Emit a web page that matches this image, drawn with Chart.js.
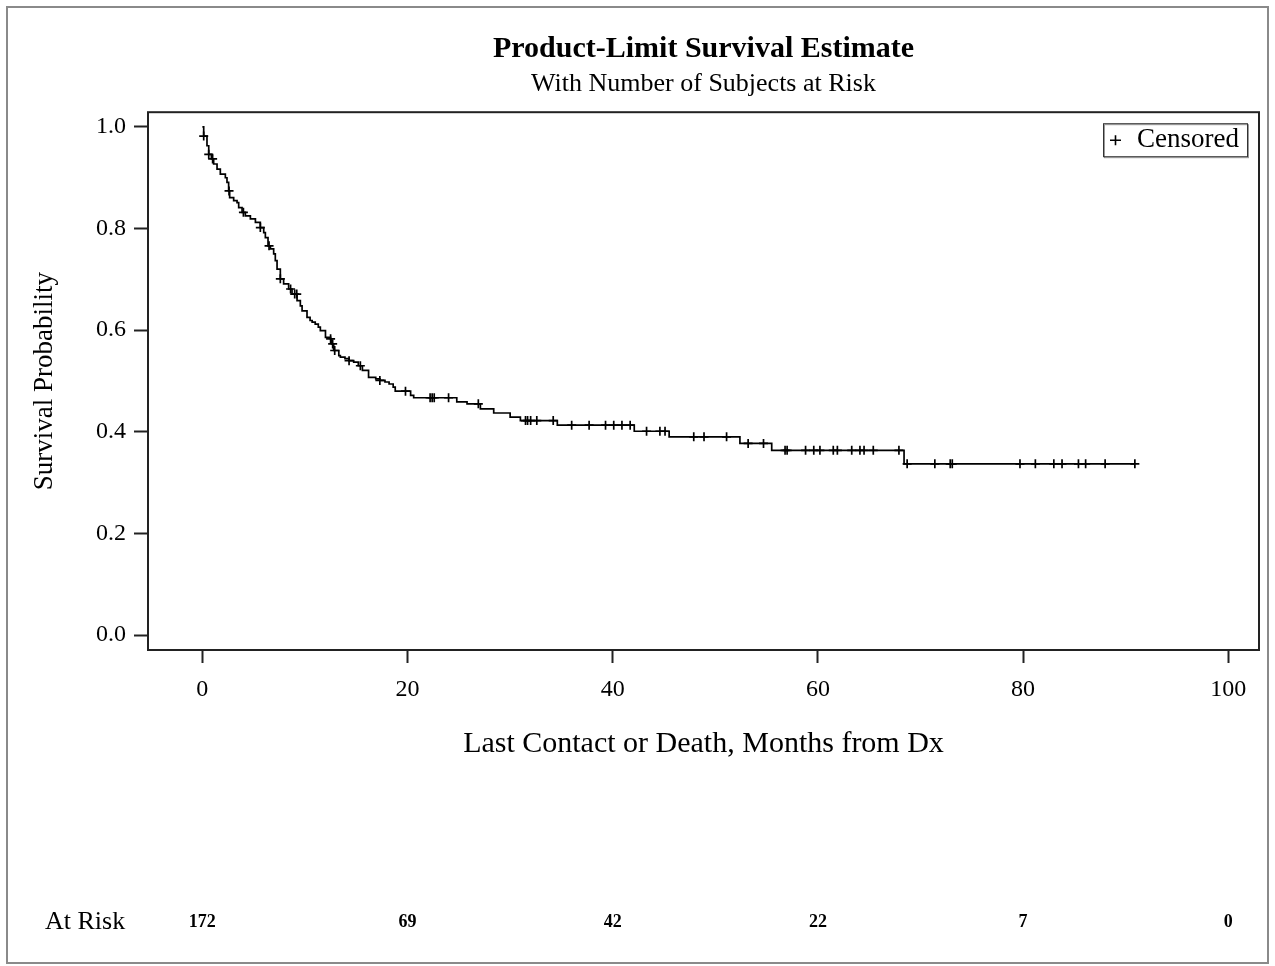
<!DOCTYPE html>
<html>
<head>
<meta charset="utf-8">
<script src="https://cdn.jsdelivr.net/npm/chart.js@4.4.1/dist/chart.umd.min.js"></script>
<style>
  html, body { margin: 0; padding: 0; background: #fff; }
  #wrap { width: 1275px; height: 966px; }
</style>
</head>
<body>
<div id="wrap"><canvas id="km" width="1275" height="966"></canvas></div>
<script>
// Kaplan-Meier curve: drop times (months) and survival after each drop
const eventTimes = [0, 0.13, 0.45, 0.62, 0.88, 1.1, 1.43, 1.75, 2.24, 2.4, 2.56, 2.66, 3.05, 3.38, 3.54, 3.87,
  4.19, 4.68, 5.17, 5.65, 5.98, 6.14, 6.4, 6.63, 6.95, 7.11, 7.28, 7.6, 7.92, 8.41, 8.74, 9.23, 9.55, 9.72,
  10.2, 10.5, 10.7, 11.0, 11.3, 11.5, 12.0, 12.5, 12.6, 12.8, 13.3, 13.45, 13.9, 14.3, 14.75, 15.2, 15.6,
  16.2, 16.9, 17.3, 17.8, 18.2, 18.6, 18.8, 20.3, 20.6, 24.8, 25.8, 27.1, 28.4, 30.0, 31.0, 34.6, 42.1,
  45.5, 52.4, 55.5, 68.4];
const survival = [1.0, 0.982, 0.963, 0.946, 0.937, 0.927, 0.917, 0.907, 0.900, 0.891, 0.874, 0.861, 0.855,
  0.851, 0.841, 0.832, 0.825, 0.819, 0.812, 0.802, 0.792, 0.782, 0.766, 0.760, 0.750, 0.737, 0.720, 0.701,
  0.691, 0.681, 0.671, 0.658, 0.648, 0.638, 0.625, 0.619, 0.616, 0.612, 0.606, 0.599, 0.586, 0.583, 0.573,
  0.560, 0.550, 0.547, 0.544, 0.540, 0.537, 0.530, 0.521, 0.507, 0.504, 0.501, 0.498, 0.494, 0.488, 0.480,
  0.4715, 0.467, 0.459, 0.455, 0.445, 0.437, 0.429, 0.422, 0.413, 0.401, 0.390, 0.377, 0.3635, 0.337];
const lastFollowUp = 90.9;

// censored subjects (months)
const censorTimes = [0.13, 0.62, 1.0, 2.6, 4.0, 5.65, 6.5, 7.6, 8.6, 9.0, 9.2, 12.5, 12.7, 12.9, 14.3, 15.4,
  17.3, 19.8, 22.2, 22.4, 22.6, 24.0, 26.9, 31.5, 31.7, 32.0, 32.6, 34.2, 36.0, 37.7, 39.3, 40.1, 40.9,
  41.7, 43.3, 44.6, 45.1, 47.9, 48.9, 51.1, 53.2, 54.7, 56.8, 57.0, 58.8, 59.6, 60.2, 61.5, 61.9, 63.3,
  64.1, 64.5, 65.4, 67.9, 68.7, 71.4, 72.9, 73.1, 79.7, 81.2, 83.0, 83.8, 85.4, 86.1, 88.0, 90.9];

const xTicks = [0, 20, 40, 60, 80, 100];
const yTicks = [0, 0.2, 0.4, 0.6, 0.8, 1.0];
const atRiskTimes = [0, 20, 40, 60, 80, 100];
const atRiskCounts = [172, 69, 42, 22, 7, 0];

const SERIF = "'Liberation Serif', 'Times New Roman', serif";

function survivalAt(t) {
  let s = survival[0];
  for (let i = 0; i < eventTimes.length; i++) {
    if (eventTimes[i] <= t) s = survival[i]; else break;
  }
  return s;
}

const curve = eventTimes.map((t, i) => ({ x: t, y: survival[i] }));
curve.push({ x: lastFollowUp, y: survival[survival.length - 1] });
const censored = censorTimes.map(t => ({ x: t, y: survivalAt(t) }));

// ─── frame, plot box, legend, at-risk row ───
const decor = {
  id: 'decor',
  beforeDraw(chart) {
    const c = chart.ctx;
    c.save();
    c.fillStyle = '#fff';
    c.fillRect(0, 0, chart.width, chart.height);
    c.strokeStyle = '#8a8a8a';
    c.lineWidth = 2;
    c.strokeRect(7, 7, 1261, 956);
    c.restore();
  },
  afterDraw(chart) {
    const c = chart.ctx;
    const a = chart.chartArea;
    c.save();
    c.strokeStyle = '#222';
    c.lineWidth = 2;
    c.strokeRect(a.left, a.top, a.right - a.left, a.bottom - a.top);

    // legend box
    const bw = 144, bh = 33;
    const bx = a.right - 12 - bw, by = a.top + 11;
    c.strokeStyle = '#999';
    c.lineWidth = 1;
    c.strokeRect(bx + 1.5, by + 1.5, bw, bh);
    c.strokeStyle = '#333';
    c.strokeRect(bx + 0.5, by + 0.5, bw, bh);
    const cy = by + bh / 2 + 0.5;
    c.strokeStyle = '#000';
    c.lineWidth = 1.6;
    c.beginPath();
    c.moveTo(bx + 7, cy); c.lineTo(bx + 18, cy);
    c.moveTo(bx + 12.5, cy - 5); c.lineTo(bx + 12.5, cy + 5);
    c.stroke();
    c.fillStyle = '#000';
    c.font = '27px ' + SERIF;
    c.textBaseline = 'middle';
    c.textAlign = 'left';
    c.fillText('Censored', bx + 34, cy);

    // number at risk
    const xs = chart.scales.x;
    const ry = 922;
    c.font = '26px ' + SERIF;
    c.fillText('At Risk', 45, ry);
    c.font = 'bold 18px ' + SERIF;
    c.textAlign = 'center';
    atRiskTimes.forEach((t, i) => {
      c.fillText(String(atRiskCounts[i]), xs.getPixelForValue(t), ry);
    });
    c.restore();
  }
};

new Chart(document.getElementById('km'), {
  type: 'scatter',
  data: {
    datasets: [
      {
        label: 'Survival',
        data: curve,
        showLine: true,
        stepped: true,
        borderColor: '#000',
        borderWidth: 1.7,
        pointRadius: 0,
        fill: false,
      },
      {
        label: 'Censored',
        data: censored,
        showLine: false,
        pointStyle: 'cross',
        pointRadius: 4.5,
        borderColor: '#000',
        borderWidth: 1.7,
        backgroundColor: '#000',
      },
    ],
  },
  options: {
    responsive: false,
    animation: false,
    layout: { padding: { top: 0, left: 0, right: 16, bottom: 0 } },
    plugins: {
      legend: { display: false },
      tooltip: { enabled: false },
      title: {
        display: true,
        text: 'Product-Limit Survival Estimate',
        fullSize: false,
        color: '#000',
        font: { family: SERIF, size: 30, weight: 'bold' },
        padding: { top: 31, bottom: 2 },
      },
      subtitle: {
        display: true,
        text: 'With Number of Subjects at Risk',
        fullSize: false,
        color: '#000',
        font: { family: SERIF, size: 26 },
        padding: { top: 0, bottom: 12 },
      },
    },
    scales: {
      x: {
        type: 'linear',
        min: -5.3,
        max: 103,
        afterBuildTicks: s => { s.ticks = xTicks.map(v => ({ value: v })); },
        afterFit: s => { s.height = 316; },
        border: { display: false },
        grid: { drawOnChartArea: false, drawTicks: true, tickLength: 13, tickWidth: 2, tickColor: '#222' },
        ticks: { color: '#000', padding: 12, font: { family: SERIF, size: 24 }, callback: v => String(v) },
        title: {
          display: true,
          text: 'Last Contact or Death, Months from Dx',
          color: '#000',
          font: { family: SERIF, size: 30 },
          padding: { top: 0, bottom: 204 },
        },
      },
      y: {
        type: 'linear',
        min: -0.0295,
        max: 1.029,
        afterBuildTicks: s => { s.ticks = yTicks.map(v => ({ value: v })); },
        afterFit: s => { s.width = 148; },
        border: { display: false },
        grid: { drawOnChartArea: false, drawTicks: true, tickLength: 14, tickWidth: 2, tickColor: '#222' },
        ticks: { color: '#000', padding: 8, font: { family: SERIF, size: 24 }, callback: v => v.toFixed(1) },
        title: {
          display: true,
          text: 'Survival Probability',
          color: '#000',
          font: { family: SERIF, size: 27 },
          padding: { top: 29 },
        },
      },
    },
  },
  plugins: [decor],
});
</script>
</body>
</html>
